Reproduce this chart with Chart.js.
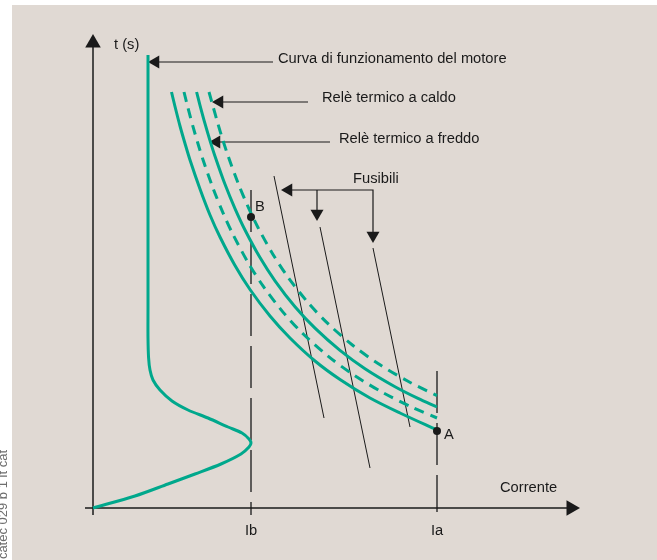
<!DOCTYPE html>
<html>
<head>
<meta charset="utf-8">
<script src="https://cdn.jsdelivr.net/npm/chart.js@4"></script>
<style>
  html, body { margin: 0; padding: 0; background: #fff; }
  #wrap { position: relative; width: 657px; height: 560px; }
  #panel { position: absolute; left: 12px; top: 5px; right: 0; bottom: 0; background: #e0d9d3; }
  #chart { position: absolute; left: 0; top: 0; }
</style>
</head>
<body>
<div id="wrap">
  <div id="panel"></div>
  <canvas id="chart" width="657" height="560"></canvas>
</div>
<script>
// corrente (x) e tempo (y) in unita' arbitrarie
const curvaMotore = [[55,453],[55,200],[55,170],[55.6,150],[57,138],[60,128],[67,118],[79,107],[95,98],[115,90],[135,81],[149,75],[156,69],[158,65],[156,61],[148,54],[128,44],[102,34],[75,24],[42,12],[0,0]];

const freddoMin = [[78.5,416],[82,401.5],[87,382],[92,364.5],[97,348],[107,319],[117,293],[127,271],[142,242.5],[157,218.5],[177,192],[197,170],[222,147],[247,128.5],[277,110],[307,95],[344,78]];
const caldoMin = [[91,416],[95,400],[100,381.4],[105,364.2],[110,348.3],[120,319.9],[130,295.2],[140,273.5],[155,245.6],[170,222.1],[190,195.9],[210,174.2],[235,151.9],[260,133.5],[290,115.3],[320,100.3],[344,90]];
const freddoMax = [[103.6,416],[107,402.7],[112,384.3],[117,367.4],[122,351.8],[132,323.7],[142,299.4],[152,278],[167,250.4],[182,227.2],[202,201.2],[222,179.8],[247,157.6],[272,139.3],[302,121.3],[325,109.6],[344,101]];
const caldoMax = [[116,416],[120,401.7],[125,383.9],[130,367.5],[135,352.3],[145,325.1],[155,301.4],[165,280.5],[180,253.6],[195,230.8],[215,205.4],[235,184.3],[260,162.5],[285,144.5],[315,126.7],[344,112.4]];

const fusibile1 = [[181,332],[231,90]];
const fusibile2 = [[227,281],[277,40]];
const fusibile3 = [[280,260],[317,81]];

const Ib = 158;
const Ia = 344;
const puntoB = [158, 291];
const puntoA = [344, 77];

// assi e richiami
const assex = [[-8,0],[478,0]];
const assey = [[0,-7],[0,465]];
const lineaIb = [[Ib,318],[Ib,-7]];
const lineaIa = [[Ia,137],[Ia,-4]];
const richiamoMotore = [[180,446],[62.5,446]];
const richiamoCaldo = [[215,406],[126.5,406]];
const richiamoFreddo = [[237,366],[123.5,366]];
const richiamoFusibili = [[195.5,318],[280,318],[280,272.5]];
const richiamoFusibili2 = [[224,318],[224,294.5]];

const etichette = [
  { text: 't (s)', x: 21, y: 459 },
  { text: 'Curva di funzionamento del motore', x: 185, y: 445 },
  { text: 'Relè termico a caldo', x: 229, y: 406 },
  { text: 'Relè termico a freddo', x: 246, y: 365 },
  { text: 'Fusibili', x: 260, y: 325 },
  { text: 'Corrente', x: 407, y: 16 },
  { text: 'B', x: 162, y: 297 },
  { text: 'A', x: 351, y: 69 },
  { text: 'Ib', x: Ib, y: -27, align: 'center' },
  { text: 'Ia', x: Ia, y: -27, align: 'center' }
];

const verde = '#00a88c';
const nero = '#1a1a1a';

function pts(arr) {
  return arr.map(p => ({ x: p[0], y: p[1] }));
}

function curva(arr, dash) {
  return {
    data: pts(arr), showLine: true, borderColor: verde, borderWidth: 3,
    borderDash: dash ? [10, 7] : [], tension: 0.3, pointRadius: 0
  };
}

function segmento(arr, width, dash) {
  return {
    data: pts(arr), showLine: true, borderColor: nero, borderWidth: width,
    borderDash: dash || [], tension: 0, pointRadius: 0
  };
}

function freccia(arr, radius, rotation, width) {
  return {
    data: pts(arr), showLine: true, borderColor: nero, borderWidth: width || 1.2, tension: 0,
    pointStyle: 'triangle', pointRadius: radius, pointRotation: rotation,
    pointBackgroundColor: nero, pointBorderWidth: 0
  };
}

const testiPlugin = {
  id: 'testi',
  afterDatasetsDraw(chart) {
    const ctx = chart.ctx;
    const sx = chart.scales.x, sy = chart.scales.y;
    ctx.save();
    ctx.fillStyle = nero;
    ctx.font = '14.7px "Liberation Sans", Arial, sans-serif';
    ctx.textBaseline = 'alphabetic';
    etichette.forEach(l => {
      ctx.textAlign = l.align || 'left';
      ctx.fillText(l.text, sx.getPixelForValue(l.x), sy.getPixelForValue(l.y));
    });
    // sigla verticale sul bordo, tagliata a sinistra
    ctx.translate(sx.getPixelForValue(-86), sy.getPixelForValue(58));
    ctx.rotate(-Math.PI / 2);
    ctx.fillStyle = '#6e6e6e';
    ctx.font = '13px "Liberation Sans", Arial, sans-serif';
    ctx.textAlign = 'right';
    ctx.fillText('catec 029 b 1 it cat', 0, 0);
    ctx.restore();
  }
};

const ctx = document.getElementById('chart').getContext('2d');
new Chart(ctx, {
  type: 'scatter',
  data: {
    datasets: [
      { data: pts([puntoB, puntoA]), pointRadius: 4, pointBackgroundColor: nero, pointBorderWidth: 0, showLine: false },
      curva(curvaMotore, false),
      curva(freddoMin, false),
      curva(caldoMin, true),
      curva(freddoMax, false),
      curva(caldoMax, true),
      segmento(fusibile1, 1),
      segmento(fusibile2, 1),
      segmento(fusibile3, 1),
      segmento(lineaIb, 1.3, [42, 10]),
      segmento(lineaIa, 1.3, [42, 10]),
      freccia(assex, [0, 9], [0, 90], 1.5),
      freccia(assey, [0, 9], [0, 0], 1.5),
      freccia(richiamoMotore, [0, 7.5], [0, -90]),
      freccia(richiamoCaldo, [0, 7.5], [0, -90]),
      freccia(richiamoFreddo, [0, 7.5], [0, -90]),
      freccia(richiamoFusibili, [7.5, 0, 7.5], [-90, 0, 180]),
      freccia(richiamoFusibili2, [0, 7.5], [0, 180])
    ]
  },
  options: {
    responsive: false,
    animation: false,
    events: [],
    layout: { padding: 0, autoPadding: false },
    plugins: { legend: { display: false }, tooltip: { enabled: false } },
    scales: {
      x: { type: 'linear', min: -93, max: 564, display: false },
      y: { type: 'linear', min: -52, max: 508, display: false }
    }
  },
  plugins: [testiPlugin]
});
</script>
</body>
</html>
